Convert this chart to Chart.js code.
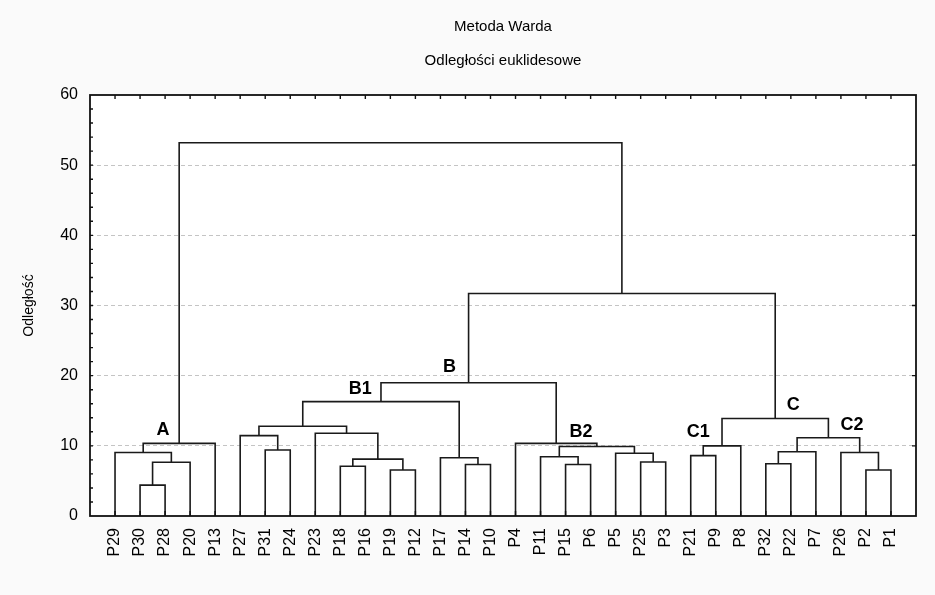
<!DOCTYPE html>
<html>
<head>
<meta charset="utf-8">
<script src="https://cdn.jsdelivr.net/npm/chart.js@4.4.1/dist/chart.umd.min.js"></script>
<style>
  html, body { margin: 0; padding: 0; background: #fafafa; }
  #wrap { width: 935px; height: 595px; }
</style>
</head>
<body>
<div id="wrap"><canvas id="dendro"></canvas></div>
<script>
// leaf order along the x axis
const leaves = ['P29', 'P30', 'P28', 'P20', 'P13', 'P27', 'P31', 'P24', 'P23', 'P18', 'P16',
  'P19', 'P12', 'P17', 'P14', 'P10', 'P4', 'P11', 'P15', 'P6', 'P5', 'P25', 'P3', 'P21',
  'P9', 'P8', 'P32', 'P22', 'P7', 'P26', 'P2', 'P1'];

// merges: merge i joins mergeLeft[i] and mergeRight[i] at distance mergeHeight[i] -> node 'm' + i
const mergeLeft  = ['P30', 'm0', 'P29', 'm2', 'P31', 'P27', 'P18', 'P19', 'm6', 'P23', 'm5',
  'P14', 'P17', 'm10', 'P15', 'P11', 'P25', 'P5', 'm15', 'P4', 'm13', 'P21', 'm21', 'P32',
  'm23', 'P2', 'P26', 'm24', 'm22', 'm20', 'm3'];
const mergeRight = ['P28', 'P20', 'm1', 'P13', 'P24', 'm4', 'P16', 'P12', 'm7', 'm8', 'm9',
  'P10', 'm11', 'm12', 'P6', 'm14', 'P3', 'm16', 'm17', 'm18', 'm19', 'P9', 'P8', 'P22',
  'P7', 'P1', 'm25', 'm26', 'm27', 'm28', 'm29'];
const mergeHeight = [4.4, 7.65, 9.05, 10.35, 9.4, 11.45, 7.1, 6.55, 8.1, 11.8, 12.8,
  7.35, 8.3, 16.3, 7.35, 8.45, 7.7, 8.95, 9.9, 10.35, 19.0, 8.6, 10.0, 7.45,
  9.15, 6.55, 9.05, 11.15, 13.9, 31.7, 53.2];

// group names written on the chart (x in leaf units, y in distance)
const groupNames = ['A', 'B1', 'B', 'B2', 'C1', 'C', 'C2'];
const groupX = [1.92, 9.8, 13.36, 18.62, 23.3, 27.1, 29.44];
const groupY = [12.2, 18.1, 21.3, 11.9, 11.9, 15.8, 12.9];

const yMax = 60;

// positions of every node: leaves at their index, merges in the middle of their children
const nodeX = {}, nodeH = {};
leaves.forEach((name, i) => { nodeX[name] = i; nodeH[name] = 0; });

const datasets = mergeHeight.map((h, i) => {
  const a = mergeLeft[i], b = mergeRight[i];
  nodeX['m' + i] = (nodeX[a] + nodeX[b]) / 2;
  nodeH['m' + i] = h;
  return {
    data: [
      { x: nodeX[a], y: nodeH[a] },
      { x: nodeX[a], y: h },
      { x: nodeX[b], y: h },
      { x: nodeX[b], y: nodeH[b] }
    ],
    showLine: true,
    borderColor: '#1a1a1a',
    borderWidth: 1.6,
    pointRadius: 0,
    tension: 0
  };
});

const FONT = '"Liberation Sans", Arial, sans-serif';

const framePlugin = {
  id: 'frame',
  beforeDraw(chart) {
    const { ctx, chartArea: a } = chart;
    ctx.save();
    ctx.fillStyle = '#fafafa';
    ctx.fillRect(0, 0, chart.width, chart.height);
    ctx.fillStyle = '#ffffff';
    ctx.fillRect(a.left, a.top, a.right - a.left, a.bottom - a.top);
    ctx.restore();
  },
  afterDraw(chart) {
    const { ctx, chartArea: a, scales } = chart;
    ctx.save();
    ctx.strokeStyle = '#111';
    ctx.lineWidth = 1.8;
    ctx.strokeRect(a.left, a.top, a.right - a.left, a.bottom - a.top);

    // inward tick marks
    ctx.lineWidth = 1.4;
    ctx.beginPath();
    leaves.forEach((l, i) => {
      const px = scales.x.getPixelForValue(i);
      ctx.moveTo(px, a.bottom); ctx.lineTo(px, a.bottom - 5);
      ctx.moveTo(px, a.top); ctx.lineTo(px, a.top + 4);
    });
    for (let v = 2; v < yMax; v += 2) {
      const py = scales.y.getPixelForValue(v);
      ctx.moveTo(a.left, py); ctx.lineTo(a.left + 3, py);
      if (v % 10 === 0) { ctx.moveTo(a.right, py); ctx.lineTo(a.right - 4, py); }
    }
    ctx.stroke();

    // titles
    const cx = (a.left + a.right) / 2;
    ctx.fillStyle = '#000';
    ctx.textAlign = 'center';
    ctx.textBaseline = 'middle';
    ctx.font = '15px ' + FONT;
    ctx.fillText('Metoda Warda', cx, 27);
    ctx.fillText('Odległości euklidesowe', cx, 61);

    // group names
    ctx.font = 'bold 18px ' + FONT;
    groupNames.forEach((g, i) => {
      ctx.fillText(g, scales.x.getPixelForValue(groupX[i]), scales.y.getPixelForValue(groupY[i]));
    });
    ctx.restore();
  }
};

new Chart(document.getElementById('dendro'), {
  type: 'scatter',
  data: { datasets },
  options: {
    responsive: true,
    maintainAspectRatio: false,
    animation: false,
    layout: { padding: { top: 95, right: 19, left: 0, bottom: 0 } },
    plugins: {
      legend: { display: false },
      tooltip: { enabled: false }
    },
    scales: {
      x: {
        type: 'linear',
        min: -1,
        max: leaves.length,
        grid: { display: false },
        border: { display: false },
        ticks: {
          stepSize: 1,
          autoSkip: false,
          maxRotation: 90,
          minRotation: 90,
          padding: 4,
          color: '#000',
          font: { family: FONT, size: 16 },
          callback: v => leaves[v] || ''
        },
        afterFit: s => { s.height = 79; s.paddingLeft = 0; s.paddingRight = 0; }
      },
      y: {
        min: 0,
        max: yMax,
        grid: {
          drawTicks: false,
          lineWidth: 1,
          color: c => (c.tick && c.tick.value > 0 && c.tick.value < yMax) ? '#c4c4c4' : 'rgba(0,0,0,0)'
        },
        border: { display: false, dash: [4, 3] },
        ticks: {
          stepSize: 10,
          padding: 12,
          color: '#000',
          font: { family: FONT, size: 16 }
        },
        title: {
          display: true,
          text: 'Odległość',
          color: '#000',
          font: { family: FONT, size: 14 },
          padding: { top: 21, bottom: 0 }
        },
        afterFit: s => { s.width = 90; s.paddingTop = 0; s.paddingBottom = 0; }
      }
    }
  },
  plugins: [framePlugin]
});
</script>
</body>
</html>
